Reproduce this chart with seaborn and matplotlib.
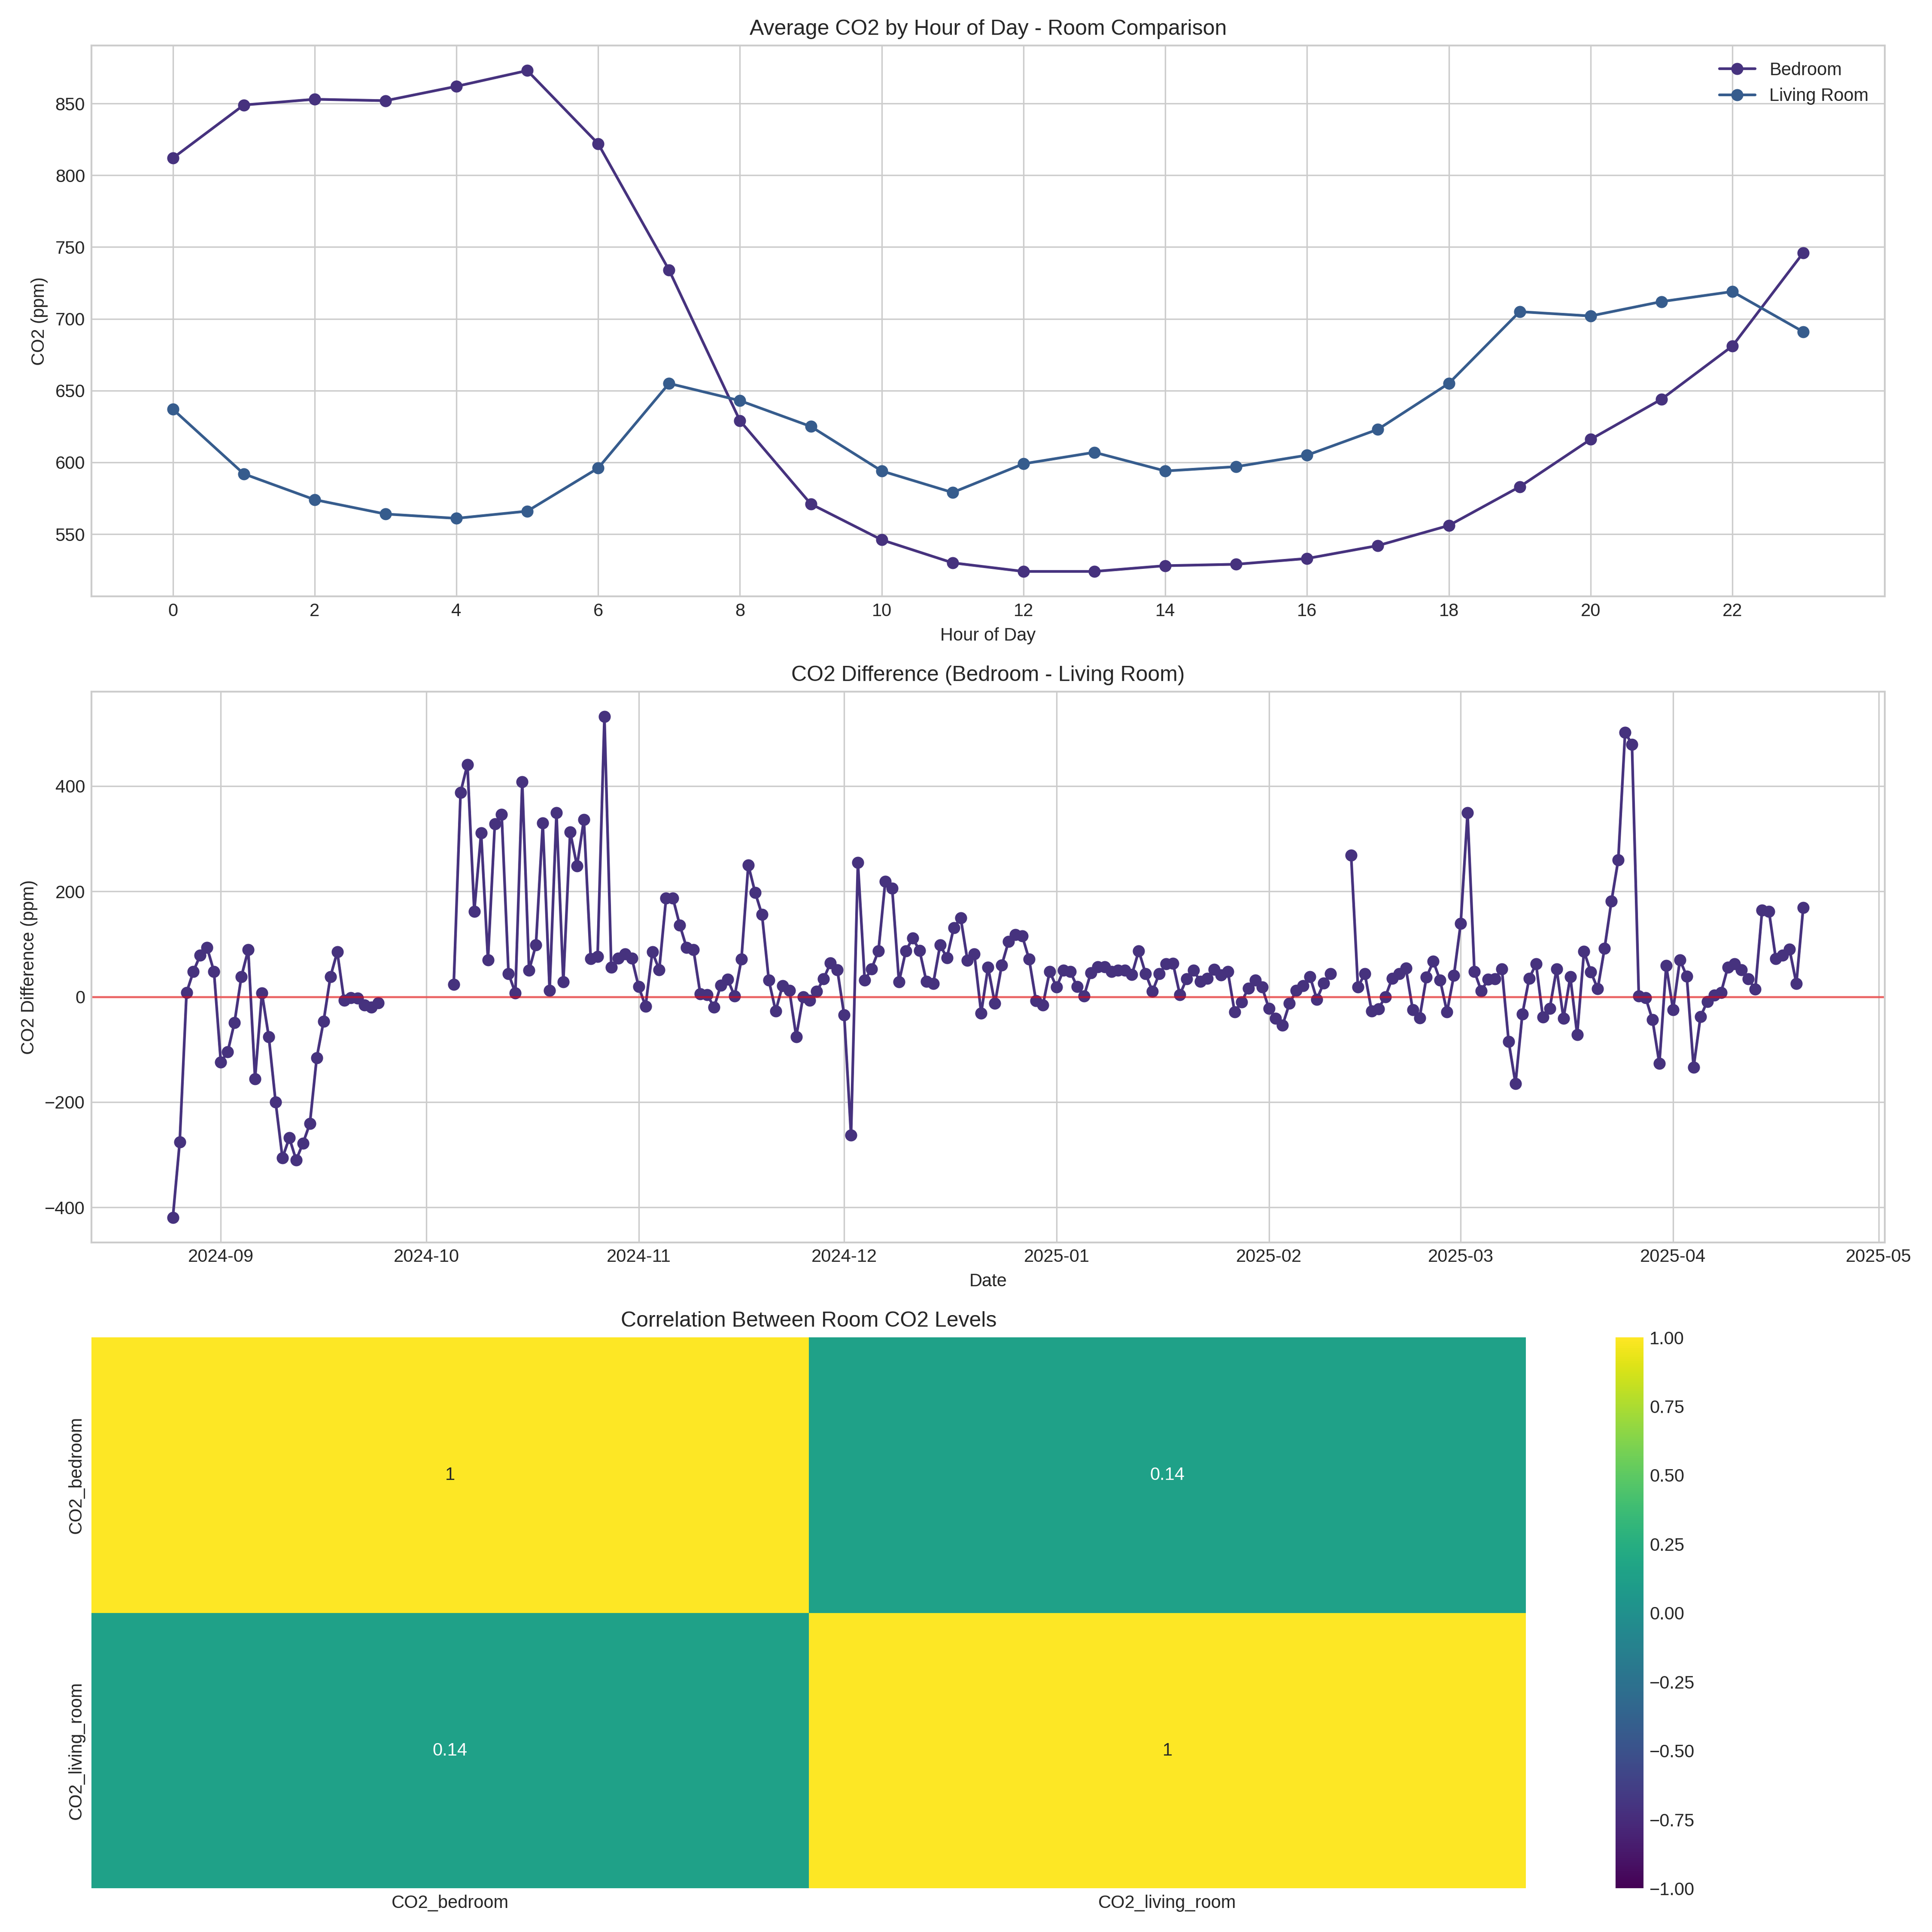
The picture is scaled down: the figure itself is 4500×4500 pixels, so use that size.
import numpy as np
import pandas as pd
import matplotlib
matplotlib.use("Agg")
import matplotlib.pyplot as plt
import seaborn as sns

# ---------------- data ----------------
hours = list(range(24))
bedroom_hourly = [812, 849, 853, 852, 862, 873, 822, 734, 629, 571, 546, 530,
                  524, 524, 528, 529, 533, 542, 556, 583, 616, 644, 681, 746]
living_hourly = [637, 592, 574, 564, 561, 566, 596, 655, 643, 625, 594, 579,
                 599, 607, 594, 597, 605, 623, 655, 705, 702, 712, 719, 691]

diff_start = "2024-08-25"
diff_aug_sep = [-419, -276, 8, 48, 79, 93, 48, -124, -105, -49, 38, 89, -156, 7,
                -76, -200, -306, -268, -310, -278, -241, -116, -47, 38, 85, -7,
                -2, -3, -16, -20, -12,
                None, None, None, None, None, None, None, None, None, None]
diff_oct = [23, 388, 441, 162, 311, 70, 328, 346, 44, 7, 408, 50, 98, 330, 12,
            349, 28, 313, 248, 336, 72, 76, 532, 56, 73, 81, 73]
diff_nov = [19, -18, 85, 51, 187, 187, 136, 93, 89, 5, 4, -20, 22, 33, 1, 71,
            250, 198, 156, 31, -27, 21, 12, -76, 0, -7, 10, 34, 64, 51]
diff_dec = [-35, -263, 255, 31, 53, 87, 219, 206, 28, 87, 111, 88, 29, 25, 98,
            74, 131, 150, 69, 81, -31, 56, -13, 60, 105, 118, 115, 71, -8, -16, 48]
diff_jan = [18, 50, 48, 19, 1, 45, 57, 57, 48, 50, 50, 42, 87, 44, 10, 44, 62,
            63, 4, 34, 50, 29, 35, 52, 41, 48, -29, -10, 16, 31, 18]
diff_feb = [-22, -41, -54, -13, 12, 21, 38, -5, 26, 44, None, None, 269, 18, 44,
            -27, -23, 0, 35, 44, 54, -25, -40, 37, 67, 31, -29, 40]
diff_mar = [139, 349, 48, 11, 33, 34, 53, -85, -165, -33, 35, 62, -39, -22, 53,
            -41, 38, -72, 86, 47, 15, 92, 181, 260, 502, 479, 1, -2, -44, -127, 59]
diff_apr = [-25, 70, 39, -134, -38, -9, 3, 8, 56, 62, 51, 34, 14, 164, 162, 72,
            79, 90, 25, 169]

corr_labels = ["CO2_bedroom", "CO2_living_room"]
corr_values = [[1.0, 0.14], [0.14, 1.0]]

# ---------------- style ----------------
plt.style.use("seaborn-v0_8-whitegrid")
sns.set_palette("viridis")
plt.rcParams["font.family"] = ["Liberation Sans", "DejaVu Sans"]
pal = sns.color_palette("viridis")

hourly_df = pd.DataFrame({
    "hour": hours * 2,
    "co2": bedroom_hourly + living_hourly,
    "room": ["Bedroom"] * 24 + ["Living Room"] * 24,
})

diff_vals = (diff_aug_sep + diff_oct + diff_nov + diff_dec + diff_jan +
             diff_feb + diff_mar + diff_apr)
diff_df = pd.DataFrame({
    "date": pd.date_range(diff_start, periods=len(diff_vals), freq="D"),
    "diff": pd.to_numeric(pd.Series(diff_vals, dtype="object"), errors="coerce"),
})
diff_df["segment"] = diff_df["diff"].isna().cumsum()
diff_df = diff_df.dropna()

fig, axes = plt.subplots(3, 1, figsize=(15, 15))

# ---- panel 1 ----
ax = axes[0]
for i, room in enumerate(["Bedroom", "Living Room"]):
    sub = hourly_df[hourly_df["room"] == room]
    sns.lineplot(data=sub, x="hour", y="co2", ax=ax, marker="o", color=pal[i],
                 label=room, markeredgecolor=pal[i], markeredgewidth=0.75)
ax.set_xticks(range(0, 24, 2))
ax.set_title("Average CO2 by Hour of Day - Room Comparison")
ax.set_xlabel("Hour of Day")
ax.set_ylabel("CO2 (ppm)")
ax.legend(loc="upper right")

# ---- panel 2 ----
ax = axes[1]
sns.lineplot(data=diff_df, x="date", y="diff", units="segment", estimator=None,
             ax=ax, marker="o", color=pal[0], markeredgecolor=pal[0],
             markeredgewidth=0.75)
ax.axhline(0, color="r", linestyle="-", alpha=0.5, linewidth=1.2)
ax.set_title("CO2 Difference (Bedroom - Living Room)")
ax.set_xlabel("Date")
ax.set_ylabel("CO2 Difference (ppm)")

# ---- panel 3 ----
ax = axes[2]
corr_df = pd.DataFrame(corr_values, index=corr_labels, columns=corr_labels)
sns.heatmap(corr_df, annot=True, cmap="viridis", vmin=-1, vmax=1, ax=ax)
ax.set_title("Correlation Between Room CO2 Levels")

plt.tight_layout()
fig.savefig("out.png", dpi=300)
